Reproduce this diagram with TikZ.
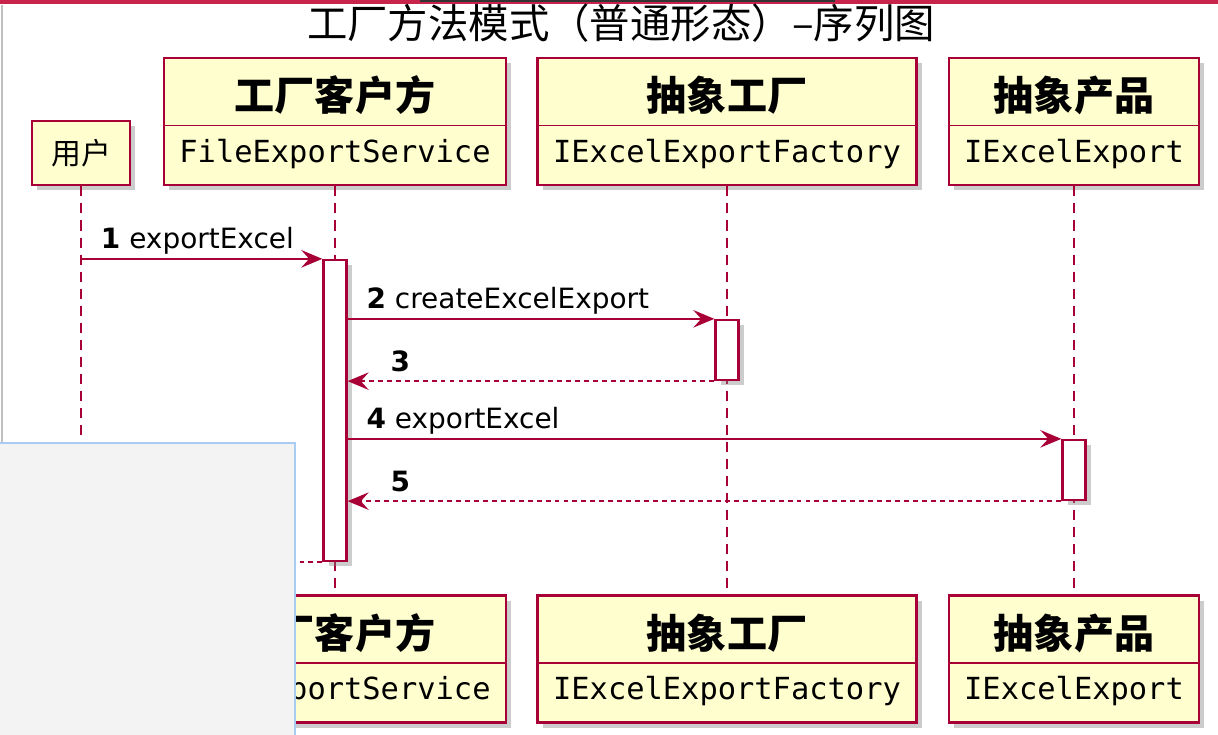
\documentclass[tikz,border=0pt]{standalone}
\usepackage{fontspec}
\setmainfont{DejaVu Sans}
\setmonofont{DejaVu Sans Mono}
\newfontfamily\cjk{Noto Sans CJK SC}
\usetikzlibrary{
    shapes,
    positioning,
    shadows,
    calc,
    arrows.meta
}
\definecolor{umlred}{HTML}{A80036}
\definecolor{umlfill}{HTML}{FEFECE}
\definecolor{panelgray}{HTML}{F3F3F3}
\definecolor{panelblue}{HTML}{A9CDF2}
\definecolor{topred}{HTML}{C8234A}
\tikzset{
  basic/.style = {
      draw=umlred,
      fill=umlfill,
      line width=1.6pt,
      rectangle,
      drop shadow={shadow xshift=3pt, shadow yshift=-3pt, opacity=.4}
  },
  party/.style = {
      basic,
      minimum height=2.54cm,
      inner sep=0pt
  },
  user/.style = {
      basic,
      minimum width=1.96cm,
      minimum height=1.28cm,
      font=\cjk\fontsize{17}{20}\selectfont
  },
  head/.style = {
      font=\cjk\bfseries\fontsize{22.8}{26}\selectfont,
      inner sep=0pt
  },
  klass/.style = {
      font=\ttfamily\fontsize{17.3}{20}\selectfont,
      inner sep=0pt
  },
  divider/.style = {
      umlred,
      line width=1pt
  },
  lifeline/.style = {
      umlred,
      line width=1.2pt,
      dash pattern=on 5.7pt off 4pt
  },
  activation/.style = {
      basic,
      fill=white,
      line width=1.3pt,
      minimum width=0.46cm,
      inner sep=0pt
  },
  call/.style = {
      umlred,
      line width=1.1pt,
      -{Stealth[length=12pt, width=10pt, inset=4.5pt]}
  },
  reply/.style = {
      call,
      dash pattern=on 2.8pt off 2.3pt
  },
  msg/.style = {
      font=\fontsize{15.9}{18}\selectfont,
      inner sep=0pt,
      anchor=base west,
      text=black
  },
  title/.style = {
      font=\cjk\fontsize{23}{27}\selectfont,
      inner sep=0pt
  }
}
\begin{document}
\begin{tikzpicture}
    \useasboundingbox (0,0) rectangle (24.36,-14.7);
    % window edges
    \draw[topred, line width=2pt] (0,-0.04) -- (24.36,-0.04);
    \draw[black!80, line width=1.5pt] (8.4,-0.02) -- (16.7,-0.02);
    \draw[black!25, line width=0.6pt] (0.04,-0.1) -- (0.04,-8.86);
    \node[title] (ttl) at (12.42,-0.46) {工厂方法模式（普通形态）–序列图};
    % participants
    \node[user] (usr) at (1.62,-3.06) {用户};
    \node[user] (usr-b) at (1.62,-12.56) {用户};
    \draw[lifeline] (usr) -- (usr-b);
    \foreach \n/\x/\w/\h/\c in {cli/6.7/6.84/工厂客户方/FileExportService,
                                fac/14.54/7.58/抽象工厂/IExcelExportFactory,
                                prd/21.48/5.0/抽象产品/IExcelExport} {
        \node[party, minimum width=\w cm] (\n) at (\x,-2.43) {};
        \node[head] (\n-h) at ([yshift=-0.78cm]\n.north) {\h};
        \node[klass] (\n-c) at ([yshift=-1.94cm]\n.north) {\c};
        \draw[divider] ([yshift=-1.38cm]\n.north west) -- ([yshift=-1.38cm]\n.north east);
        \node[party, minimum width=\w cm] (\n-b) at (\x,-13.18) {};
        \node[head] (\n-bh) at ([yshift=-0.78cm]\n-b.north) {\h};
        \node[klass] (\n-bc) at ([yshift=-1.94cm]\n-b.north) {\c};
        \draw[divider] ([yshift=-1.38cm]\n-b.north west) -- ([yshift=-1.38cm]\n-b.north east);
        \draw[lifeline] (\n) -- (\n-b);
    }
    % activations
    \node[activation, minimum height=6.02cm] (a1) at (6.7,-8.21) {};
    \node[activation, minimum height=1.2cm] (a2) at (14.54,-7.0) {};
    \node[activation, minimum height=1.2cm] (a3) at (21.48,-9.4) {};
    % messages
    \draw[call] (usr |- a1.north) -- (a1.north west)
        node[msg, pos=0, xshift=0.38cm, yshift=0.2cm] {\textbf{1} exportExcel};
    \draw[call] (a1.east |- a2.north) -- (a2.north west)
        node[msg, pos=0, xshift=0.36cm, yshift=0.2cm] {\textbf{2} createExcelExport};
    \draw[reply] (a2.south west) -- (a1.east |- a2.south)
        node[msg, pos=1, xshift=0.84cm, yshift=0.2cm] {\textbf{3}};
    \draw[call] (a1.east |- a3.north) -- (a3.north west)
        node[msg, pos=0, xshift=0.36cm, yshift=0.2cm] {\textbf{4} exportExcel};
    \draw[reply] (a3.south west) -- (a1.east |- a3.south)
        node[msg, pos=1, xshift=0.84cm, yshift=0.2cm] {\textbf{5}};
    \draw[reply] (a1.south west) -- (usr |- a1.south);
    % panel over the lower left corner
    \fill[panelgray] (0,-8.86) rectangle (5.9,-14.7);
    \draw[panelblue, line width=0.8pt] (0,-8.86) -- (5.9,-8.86) -- (5.9,-14.7);
\end{tikzpicture}
\end{document}
